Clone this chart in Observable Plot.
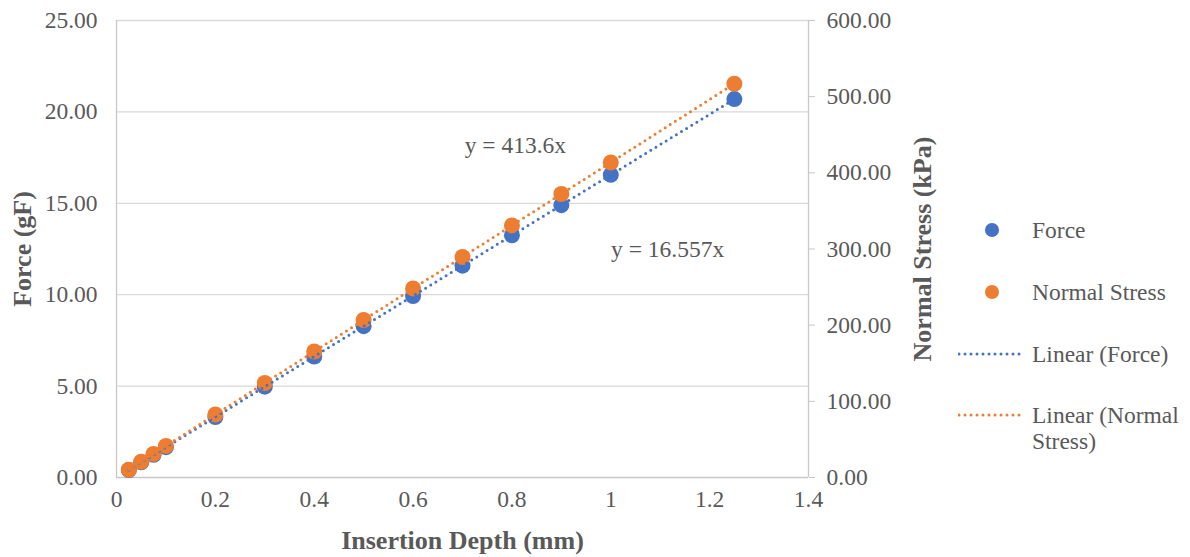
<!DOCTYPE html>
<html>
<head>
<meta charset="utf-8">
<script src="https://cdn.jsdelivr.net/npm/d3@7"></script>
<script src="https://cdn.jsdelivr.net/npm/@observablehq/plot@0.6"></script>
<style>
  html, body { margin: 0; padding: 0; background: #fff; }
  #wrap { position: relative; width: 1190px; height: 557px; font-family: "Liberation Serif", "DejaVu Serif", serif; color: #595959; }
  #legend { position: absolute; left: 0; top: 0; width: 1190px; height: 557px; pointer-events: none; }
  .lg { position: absolute; font-size: 23.5px; line-height: 26px; color: #595959; white-space: nowrap; }
  .sw { position: absolute; }
</style>
</head>
<body>
<div id="wrap">
  <div id="chart"></div>
  <div id="legend"></div>
</div>
<script>
// ---- data ----
const depth = [0.025, 0.05, 0.075, 0.1, 0.2, 0.3, 0.4, 0.5, 0.6, 0.7, 0.8, 0.9, 1.0, 1.25];
const force = [0.41, 0.83, 1.24, 1.66, 3.31, 4.97, 6.62, 8.28, 9.93, 11.59, 13.25, 14.90, 16.56, 20.70];
const stress = [10.3, 20.7, 31.0, 41.4, 82.7, 124.1, 165.4, 206.8, 248.2, 289.5, 330.9, 372.2, 413.6, 517.0];
const forceSlope = 16.557;
const stressSlope = 413.6;
const xTicks = [0, 0.2, 0.4, 0.6, 0.8, 1, 1.2, 1.4];
const forceTicks = [0, 5, 10, 15, 20, 25];
const stressTicks = [0, 100, 200, 300, 400, 500, 600];
const titles = {x: "Insertion Depth (mm)", yLeft: "Force (gF)", yRight: "Normal Stress (kPa)"};
const seriesNames = ["Force", "Normal Stress", "Linear (Force)", "Linear (Normal Stress)"];
const colors = ["#4472C4", "#ED7D31"];

const ratio = 600 / 25; // right axis max / left axis max

const forcePts = depth.map((d, i) => ({x: d, y: force[i]}));
const stressPts = depth.map((d, i) => ({x: d, y: stress[i] / ratio}));
const xr = [depth[0], depth[depth.length - 1]];
const forceLine = xr.map(x => ({x, y: forceSlope * x}));
const stressLine = xr.map(x => ({x, y: stressSlope * x / ratio}));

const W = 945, H = 557;
const titleStyle = {fontSize: 26, fontWeight: "bold", fill: "#595959", textAnchor: "middle", lineAnchor: "middle"};
const plot = Plot.plot({
  width: W,
  height: H,
  marginLeft: 116,
  marginRight: W - 808,
  marginTop: 20,
  marginBottom: 80,
  style: {fontFamily: '"Liberation Serif", serif', fontSize: "23.5px", color: "#595959", background: "#fff"},
  x: {domain: [0, 1.4]},
  y: {domain: [0, 25]},
  marks: [
    Plot.gridY(forceTicks.slice(1), {stroke: "#d9d9d9", strokeOpacity: 1, strokeWidth: 1.3}),
    Plot.ruleX([0], {stroke: "#c8c8c8", strokeWidth: 1.3}),
    Plot.ruleX([1.4], {stroke: "#c8c8c8", strokeWidth: 1.3}),
    Plot.ruleY([0], {stroke: "#c8c8c8", strokeWidth: 1.5}),
    Plot.axisX(xTicks, {tickSize: 0, tickPadding: 13, tickFormat: d => String(d), fill: "#595959", label: null}),
    Plot.axisY(forceTicks, {anchor: "left", tickSize: 0, tickPadding: 19, tickFormat: d => d.toFixed(2), fill: "#595959", label: null}),
    Plot.axisY(stressTicks.map(v => v / ratio), {anchor: "right", tickSize: 6, tickPadding: 12, stroke: "#c8c8c8",
      tickFormat: d => (d * ratio).toFixed(2), fill: "#595959", label: null}),
    Plot.text([titles.x], {frameAnchor: "bottom", dy: 63, text: d => d, ...titleStyle}),
    Plot.text([titles.yLeft], {frameAnchor: "left", dx: -94, rotate: -90, text: d => d, ...titleStyle}),
    Plot.text([titles.yRight], {frameAnchor: "right", dx: 114, rotate: -90, text: d => d, ...titleStyle}),
    Plot.dot(forcePts, {x: "x", y: "y", r: 8, fill: colors[0], stroke: null}),
    Plot.dot(stressPts, {x: "x", y: "y", r: 8, fill: colors[1], stroke: null}),
    Plot.line(forceLine, {x: "x", y: "y", stroke: colors[0], strokeWidth: 3, strokeDasharray: "0,6", strokeLinecap: "round"}),
    Plot.line(stressLine, {x: "x", y: "y", stroke: colors[1], strokeWidth: 3, strokeDasharray: "0,6", strokeLinecap: "round"}),
    Plot.text(["y = " + stressSlope + "x"], {x: () => 0.807, y: () => 18.16, text: d => d, fontSize: 23.5, fill: "#595959", textAnchor: "middle"}),
    Plot.text(["y = " + forceSlope + "x"], {x: () => 1.115, y: () => 12.47, text: d => d, fontSize: 23.5, fill: "#595959", textAnchor: "middle"})
  ]
});
document.getElementById("chart").appendChild(plot);

// ---- legend ----
const leg = document.getElementById("legend");
const rows = [
  {name: seriesNames[0], type: "dot", c: colors[0], y: 230},
  {name: seriesNames[1], type: "dot", c: colors[1], y: 292},
  {name: seriesNames[2], type: "line", c: colors[0], y: 354},
  {name: "Linear (Normal<br>Stress)", type: "line", c: colors[1], y: 415}
];
rows.forEach(r => {
  const sw = document.createElementNS("http://www.w3.org/2000/svg", "svg");
  sw.setAttribute("class", "sw");
  sw.setAttribute("width", 70);
  sw.setAttribute("height", 20);
  sw.style.left = "958px";
  sw.style.top = (r.y - 10) + "px";
  if (r.type === "dot") {
    sw.innerHTML = `<circle cx="34" cy="10" r="7" fill="${r.c}"/>`;
  } else {
    sw.innerHTML = `<line x1="1" y1="10" x2="67" y2="10" stroke="${r.c}" stroke-width="3" stroke-dasharray="0,6" stroke-linecap="round"/>`;
  }
  leg.appendChild(sw);
  const t = document.createElement("div");
  t.className = "lg";
  t.style.left = "1032px";
  t.style.top = (r.y - 13) + "px";
  t.innerHTML = r.name;
  leg.appendChild(t);
});
</script>
</body>
</html>
